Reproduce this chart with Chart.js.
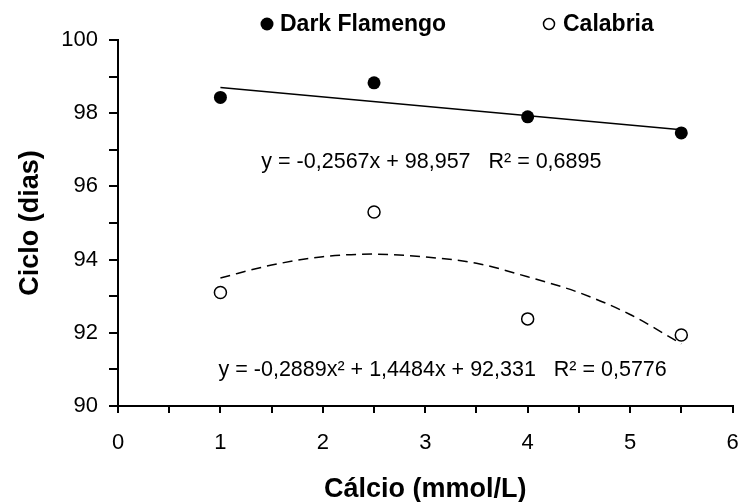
<!DOCTYPE html>
<html>
<head>
<meta charset="utf-8">
<script src="https://cdn.jsdelivr.net/npm/chart.js@4"></script>
<style>
  html, body { margin: 0; padding: 0; background: #fff; }
  #wrap { width: 740px; height: 502px; }
</style>
</head>
<body>
<div id="wrap"><canvas id="myChart" width="740" height="502"></canvas></div>
<script>
// Dados
calcio = [1, 2.5, 4, 5.5]
darkFlamengo = [98.43, 98.83, 97.9, 97.46]
calabria = [93.1, 95.3, 92.38, 91.94]

// linha de tendência linear (Dark Flamengo)
tendLinearX = [1, 5.5]
tendLinearY = [98.7, 97.55]

// linha de tendência polinomial (Calabria)
tendPolyX = [1, 1.5, 2, 2.5, 3, 3.5, 4, 4.5, 5, 5.5]
tendPolyY = [93.5, 93.85, 94.08, 94.15, 94.07, 93.9, 93.53, 93.1, 92.5, 91.7]

legendas = ['Dark Flamengo', 'Calabria']
equacoes = [
    { texto: 'y = -0,2567x + 98,957   R\u00B2 = 0,6895', x: 3.06, y: 96.67 },
    { texto: 'y = -0,2889x\u00B2 + 1,4484x + 92,331   R\u00B2 = 0,5776', x: 3.17, y: 90.98 },
]

function pares(xs, ys) {
    return xs.map(function (x, i) { return { x: x, y: ys[i] }; });
}

var fonte = "'Liberation Sans', Arial, sans-serif";
Chart.defaults.font.family = fonte;
Chart.defaults.color = '#000';

// legenda e equações desenhadas no canvas
var textos = {
    id: 'textos',
    afterDatasetsDraw: function (chart) {
        var ctx = chart.ctx;
        var xs = chart.scales.x, ys = chart.scales.y;
        ctx.save();
        ctx.fillStyle = '#000';
        ctx.textBaseline = 'middle';

        // equações
        ctx.font = '21.5px ' + fonte;
        ctx.textAlign = 'center';
        equacoes.forEach(function (e) {
            ctx.fillText(e.texto, xs.getPixelForValue(e.x), ys.getPixelForValue(e.y));
        });

        // legenda
        var ly = chart.chartArea.top - 16;
        ctx.font = 'bold 23px ' + fonte;
        ctx.textAlign = 'left';
        ctx.lineWidth = 1.5;
        ctx.strokeStyle = '#000';
        ctx.beginPath();
        ctx.arc(267, ly, 6.5, 0, Math.PI * 2);
        ctx.fill();
        ctx.fillText(legendas[0], 280, ly + 1);
        ctx.beginPath();
        ctx.fillStyle = '#fff';
        ctx.arc(549, ly, 5.5, 0, Math.PI * 2);
        ctx.fill();
        ctx.stroke();
        ctx.fillStyle = '#000';
        ctx.fillText(legendas[1], 563, ly + 1);
        ctx.restore();
    }
};

var ctx = document.getElementById('myChart').getContext('2d');
var myChart = new Chart(ctx, {
    type: 'scatter',
    data: {
        datasets: [{
            label: legendas[0],
            data: pares(calcio, darkFlamengo),
            pointRadius: 6.5,
            pointBackgroundColor: '#000',
            pointBorderColor: '#000',
            pointBorderWidth: 0,
            order: 1
        }, {
            label: legendas[1],
            data: pares(calcio, calabria),
            pointRadius: 6,
            pointBackgroundColor: '#fff',
            pointBorderColor: '#000',
            pointBorderWidth: 1.5,
            order: 2
        }, {
            label: 'tend1',
            type: 'line',
            data: pares(tendLinearX, tendLinearY),
            borderColor: '#000',
            borderWidth: 1.5,
            pointRadius: 0,
            fill: false,
            order: 3
        }, {
            label: 'tend2',
            type: 'line',
            data: pares(tendPolyX, tendPolyY),
            borderColor: '#000',
            borderWidth: 1.5,
            borderDash: [10, 6],
            pointRadius: 0,
            cubicInterpolationMode: 'monotone',
            fill: false,
            order: 4
        }]
    },
    options: {
        responsive: false,
        animation: { duration: 0 },
        layout: { padding: { top: 40, right: 7, left: 0, bottom: 0 } },
        plugins: {
            legend: { display: false },
            tooltip: { enabled: false }
        },
        scales: {
            x: {
                type: 'linear',
                min: 0,
                max: 6,
                afterFit: function (s) {
                    s.height = 96;
                    s.paddingLeft = 0;
                    s.paddingRight = 0;
                },
                border: { color: '#000', width: 2 },
                grid: { drawOnChartArea: false, tickLength: 7, color: '#000', lineWidth: 2 },
                ticks: {
                    stepSize: 0.5,
                    padding: 17,
                    font: { size: 22 },
                    maxRotation: 0,
                    autoSkip: false,
                    callback: function (v) { return Number.isInteger(v) ? v : ''; }
                },
                title: {
                    display: true,
                    text: 'Cálcio (mmol/L)',
                    font: { size: 27, weight: 'bold' },
                    padding: { top: 0, bottom: -4 }
                }
            },
            y: {
                min: 90,
                max: 100,
                afterFit: function (s) {
                    s.width = 118;
                    s.paddingTop = 0;
                    s.paddingBottom = 0;
                },
                border: { color: '#000', width: 2 },
                grid: { drawOnChartArea: false, tickLength: 9, color: '#000', lineWidth: 2 },
                ticks: {
                    stepSize: 1,
                    padding: 11,
                    font: { size: 22 },
                    autoSkip: false,
                    callback: function (v) { return v % 2 === 0 ? v : ''; }
                },
                title: {
                    display: true,
                    text: 'Ciclo (dias)',
                    font: { size: 27, weight: 'bold' },
                    padding: { top: 14, bottom: 0 }
                }
            }
        }
    },
    plugins: [textos]
});
</script>
</body>
</html>
